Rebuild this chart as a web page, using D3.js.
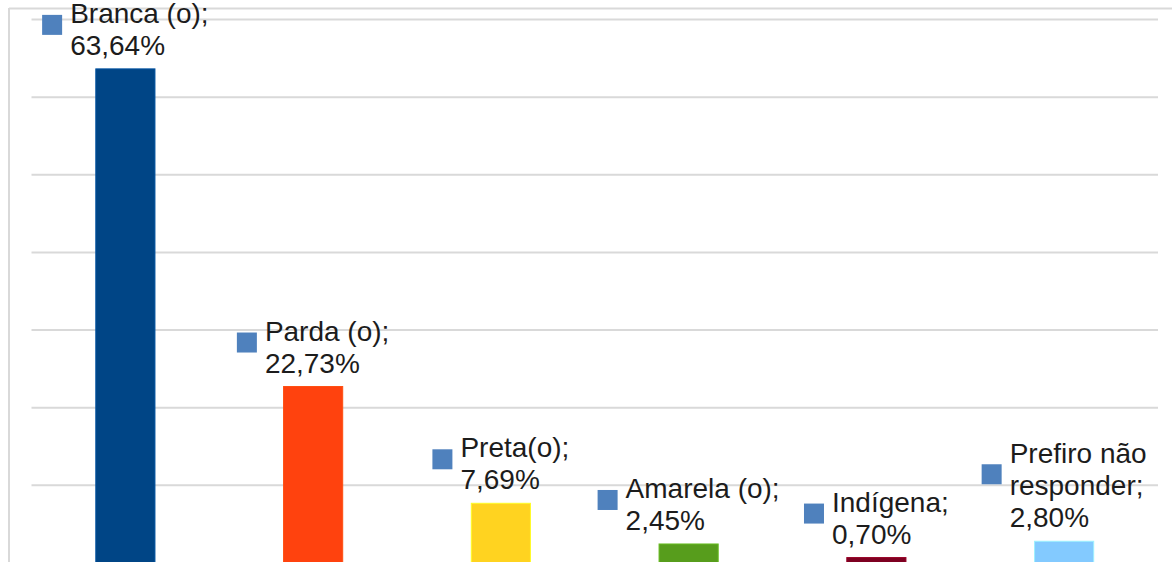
<!doctype html>
<html>
<head>
    <meta charset="utf-8">
    <style>
        body { margin: 0; background: #fff; }
        svg { display: block; }
        .lbl text {
            font-family: 'Liberation Sans', Arial, sans-serif;
            font-size: 28px;
            fill: #1c1c1c;
        }
    </style>
    <script src="https://d3js.org/d3.v7.min.js"></script>
</head>
<body>
    <script>
        // data
        var categories = ["Branca (o)", "Parda (o)", "Preta(o)", "Amarela (o)", "Indígena", "Prefiro não responder"];
        var values = [63.64, 22.73, 7.69, 2.45, 0.70, 2.80];
        var barColors = ["#004586", "#ff420e", "#ffd320", "#579d1c", "#7e0021", "#83caff"];
        var gridTicks = [0, 10, 20, 30, 40, 50, 60, 70];

        var W = 1172, H = 562;
        var svg = d3.select("body").append("svg").attr("width", W).attr("height", H);

        var x = d3.scaleBand()
            .domain(categories)
            .range([31.5, 1158])
            .paddingInner(0.685)
            .paddingOuter(0.3425);

        var y = d3.scaleLinear().domain([0, 70]).range([563, 19.5]);

        // outer frame (top + left edges visible)
        svg.append("line").attr("x1", 9).attr("x2", W).attr("y1", 8.5).attr("y2", 8.5)
            .attr("stroke", "#d9d9d9").attr("stroke-width", 2);
        svg.append("line").attr("x1", 9).attr("x2", 9).attr("y1", 8).attr("y2", H)
            .attr("stroke", "#d9d9d9").attr("stroke-width", 2);

        // gridlines
        svg.append("g").selectAll("line").data(gridTicks).join("line")
            .attr("x1", 31.5).attr("x2", 1158)
            .attr("y1", function(d) { return y(d); })
            .attr("y2", function(d) { return y(d); })
            .attr("stroke", "#d9d9d9").attr("stroke-width", 2);

        // bars
        svg.append("g").selectAll("rect").data(values).join("rect")
            .attr("x", function(d, i) { return x(categories[i]); })
            .attr("y", function(d) { return y(d); })
            .attr("width", x.bandwidth())
            .attr("height", function(d) { return y(0) - y(d); })
            .attr("fill", function(d, i) { return barColors[i]; })
            .attr("stroke", function(d, i) { return d3.color(barColors[i]).brighter(0.5); })
            .attr("stroke-width", 1);

        // data labels: legend key + "categoria; valor"
        var fmt = function(v) { return v.toFixed(2).replace(".", ",") + "%"; };
        var maxW = 160, lineH = 32;

        var labels = svg.append("g").attr("class", "lbl");
        categories.forEach(function(cat, i) {
            var g = labels.append("g");
            // wrap the category text
            var words = (cat + ";").split(" ");
            var lines = [], cur = "";
            var probe = g.append("text");
            words.forEach(function(w) {
                var t = cur ? cur + " " + w : w;
                probe.text(t);
                if (cur && probe.node().getComputedTextLength() > maxW) {
                    lines.push(cur); cur = w;
                } else cur = t;
            });
            lines.push(cur);
            lines.push(fmt(values[i]));
            probe.remove();

            var n = lines.length;
            var lastBase = y(values[i]) - 14;
            var tx = g.append("text");
            lines.forEach(function(l, k) {
                tx.append("tspan").attr("x", 0).attr("y", lastBase - (n - 1 - k) * lineH).text(l);
            });
            var tw = tx.node().getBBox().width;
            var cx = x(cat) + x.bandwidth() / 2;
            var left = cx - (20 + 8 + tw) / 2;
            tx.selectAll("tspan").attr("x", left + 28);
            var firstBase = lastBase - (n - 1) * lineH;
            var my = (firstBase + lastBase) / 2 - 7 * n;
            g.append("rect")
                .attr("x", left).attr("y", my - 10)
                .attr("width", 20).attr("height", 20)
                .attr("fill", "#4f81bd");
        });
    </script>
</body>
</html>
